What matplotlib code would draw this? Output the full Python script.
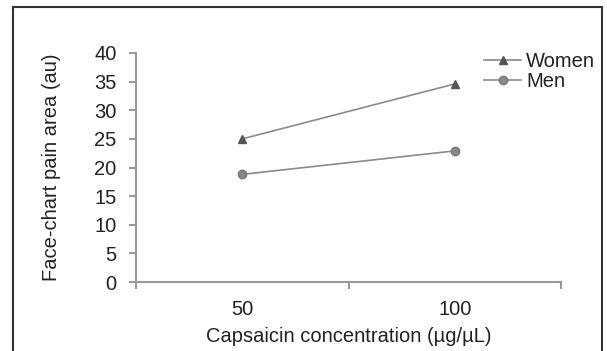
import numpy as np
import matplotlib.pyplot as plt
from matplotlib.patches import Rectangle

#%% data

concentrations = ['50', '100']
women = [25.0, 34.6]
men = [18.8, 22.9]

#%% style

plt.rcParams.update({
    'font.family': ['Liberation Sans', 'DejaVu Sans'],
    'font.size': 14.5,
    'text.color': '#222222',
    'axes.labelcolor': '#222222',
    'xtick.color': '#999999',
    'ytick.color': '#999999',
    'xtick.labelcolor': '#222222',
    'ytick.labelcolor': '#222222',
})

fig = plt.figure(figsize=(6.07, 3.51), dpi=100)
ax = fig.add_axes([136/607, 1 - 282/351, (561 - 136)/607, (282 - 53)/351])

x = np.arange(len(concentrations))
ax.plot(x, women, color='#8a8a8a', lw=1.2, marker='^', ms=6,
        mfc='#555555', mec='#555555', label='Women')
ax.plot(x, men, color='#8a8a8a', lw=1.2, marker='o', ms=6,
        mfc='#888888', mec='#777777', label='Men')

ax.set_xlim(-0.5, len(concentrations) - 0.5)
ax.set_ylim(0, 40)
ax.set_yticks(np.arange(0, 41, 5))

# category boundaries get the tick marks, labels sit in the middle
ax.set_xticks(np.arange(-0.5, len(concentrations), 1.0))
ax.set_xticklabels([])
ax.set_xticks(x, minor=True)
ax.set_xticklabels(concentrations, minor=True)
ax.tick_params(axis='x', which='major', length=5, width=1.5, direction='out')
ax.tick_params(axis='x', which='minor', length=0, pad=13)
ax.tick_params(axis='y', length=5, width=1.5, pad=9)

for s in ['top', 'right']:
    ax.spines[s].set_visible(False)
for s in ['left', 'bottom']:
    ax.spines[s].set_color('#999999')
    ax.spines[s].set_linewidth(1.5)

ax.set_xlabel('Capsaicin concentration (\u00b5g/\u00b5L)', labelpad=6)
ax.set_ylabel('Face-chart pain area (au)', labelpad=24)

ax.legend(loc='upper left', bbox_to_anchor=(484/607, 1 - 52/351),
          bbox_transform=fig.transFigure, frameon=False, handlelength=1.85,
          handletextpad=0.25, borderpad=0, borderaxespad=0, labelspacing=0.05)

# outer frame of the figure panel
fig.patches.append(Rectangle((12.8/607, -0.1), (602 - 12.8)/607, 1.1 - 6.7/351,
                             transform=fig.transFigure, fill=False,
                             edgecolor='#333333', lw=1.5))

plt.savefig('out.png', dpi=100)
